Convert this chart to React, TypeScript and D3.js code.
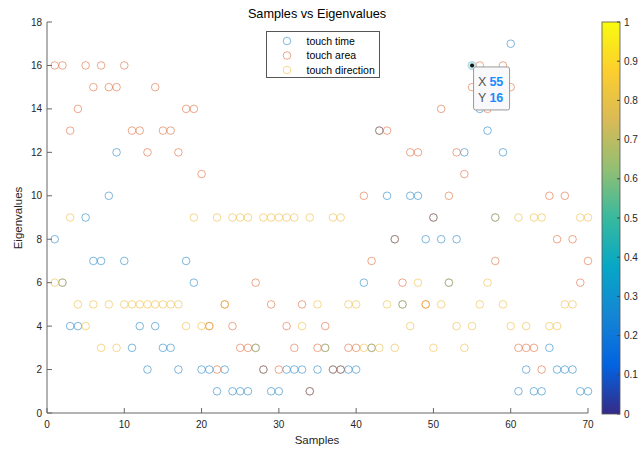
import React, { useEffect, useRef } from 'react';
import * as d3 from 'd3';

// eigenvalue per sample (samples 1..70)
const touchTime = [
  8, 6, 4, 4, 9, 7, 7, 10, 12, 7, 3, 4, 2, 4, 3, 3, 2,
  7, 6, 2, 2, 1, 2, 1, 1, 1, 3, 2, 1, 1, 2, 2, 2, 1,
  2, 3, 2, 2, 2, 2, 6, 3, 13, 10, 8, 5, 10, 10, 8, 9, 8,
  6, 8, 12, 16, 14, 13, 9, 12, 17, 1, 2, 1, 1, 3, 2, 2, 2, 1, 1,
];
const touchArea = [
  16, 16, 13, 14, 16, 15, 16, 15, 15, 16, 13, 13, 12, 15, 13, 13, 12,
  14, 14, 11, 4, 2, 5, 4, 3, 3, 6, 2, 5, 2, 4, 3, 5, 1,
  3, 4, 2, 2, 3, 3, 10, 7, 13, 13, 8, 6, 12, 12, 5, 9, 14,
  10, 12, 11, 15, 16, 14, 7, 16, 15, 3, 3, 3, 2, 10, 8, 10, 8, 6, 7,
];
const touchDirection = [
  6, 6, 9, 5, 4, 5, 3, 5, 3, 5, 5, 5, 5, 5, 5, 5, 5,
  4, 9, 4, 4, 9, 5, 9, 9, 9, 3, 9, 9, 9, 9, 9, 4, 9,
  5, 3, 9, 9, 5, 5, 3, 3, 3, 5, 3, 5, 4, 6, 5, 3, 5,
  6, 4, 3, 4, 5, 6, 9, 5, 4, 9, 4, 9, 9, 4, 4, 5, 5, 9, 9,
];
const seriesNames = ['touch time', 'touch area', 'touch direction'];
const xTicks = [0, 10, 20, 30, 40, 50, 60, 70];
const yTicks = [0, 2, 4, 6, 8, 10, 12, 14, 16, 18];
const cbTicks = [0, 0.1, 0.2, 0.3, 0.4, 0.5, 0.6, 0.7, 0.8, 0.9, 1];
const tipPoint = { x: 55, y: 16 };

const seriesColors = ['#0072BD', '#D95319', '#EDB120'];
const parula = ['#352a87', '#0363e1', '#1485d4', '#06a7c6', '#38b99e', '#92bf73', '#d9ba56', '#fcce2e', '#f9fb0e'];

const W = 644, H = 449;
const FONT = '"Liberation Sans", Arial, Helvetica, sans-serif';

export default function App() {
  const ref = useRef<SVGSVGElement>(null);

  useEffect(() => {
    const svg = d3.select(ref.current);
    svg.selectAll('*').remove();

    const x = d3.scaleLinear().domain([0, 70]).range([47, 588]);
    const y = d3.scaleLinear().domain([0, 18]).range([413, 22]);
    const axisColor = '#666';
    const textColor = '#262626';

    // axes lines
    svg.append('line').attr('x1', x(0)).attr('x2', x(0)).attr('y1', y(0)).attr('y2', y(18))
      .attr('stroke', axisColor);
    svg.append('line').attr('x1', x(0)).attr('x2', x(70)).attr('y1', y(0)).attr('y2', y(0))
      .attr('stroke', axisColor);

    // y ticks (inside)
    const gy = svg.append('g').attr('font-family', FONT).attr('font-size', 10).attr('fill', textColor);
    yTicks.forEach(t => {
      gy.append('line').attr('x1', x(0)).attr('x2', x(0) + 5).attr('y1', y(t)).attr('y2', y(t)).attr('stroke', axisColor);
      gy.append('text').attr('x', x(0) - 5).attr('y', y(t)).attr('dy', '0.35em')
        .attr('text-anchor', 'end').text(t);
    });
    // x ticks (inside)
    const gx = svg.append('g').attr('font-family', FONT).attr('font-size', 10).attr('fill', textColor);
    xTicks.forEach(t => {
      gx.append('line').attr('x1', x(t)).attr('x2', x(t)).attr('y1', y(0)).attr('y2', y(0) - 5).attr('stroke', axisColor);
      gx.append('text').attr('x', x(t)).attr('y', y(0) + 15).attr('text-anchor', 'middle').text(t);
    });

    // labels + title
    svg.append('text').attr('x', 317).attr('y', 444).attr('text-anchor', 'middle')
      .attr('font-family', FONT).attr('font-size', 11.5).attr('fill', textColor).text('Samples');
    svg.append('text').attr('transform', `translate(22,218) rotate(-90)`).attr('text-anchor', 'middle')
      .attr('font-family', FONT).attr('font-size', 11.5).attr('fill', textColor).text('Eigenvalues');
    svg.append('text').attr('x', 317).attr('y', 17.5).attr('text-anchor', 'middle')
      .attr('font-family', FONT).attr('font-size', 12.7).attr('fill', '#000').text('Samples vs Eigenvalues');

    // scatter series
    [touchTime, touchArea, touchDirection].forEach((vals, si) => {
      svg.append('g')
        .selectAll('circle')
        .data(vals)
        .join('circle')
        .attr('cx', (d, i) => x(i + 1))
        .attr('cy', d => y(d))
        .attr('r', 3.8)
        .attr('fill', 'none')
        .attr('stroke', seriesColors[si])
        .attr('stroke-opacity', 0.5)
        .attr('stroke-width', 1);
    });

    // legend
    const lg = svg.append('g').attr('font-family', FONT).attr('font-size', 10.5).attr('fill', '#000');
    lg.append('rect').attr('x', 266.5).attr('y', 31.5).attr('width', 113).attr('height', 46)
      .attr('fill', '#fff').attr('stroke', '#555');
    seriesNames.forEach((n, i) => {
      const ry = 41 + i * 14.5;
      lg.append('circle').attr('cx', 287).attr('cy', ry).attr('r', 3.8).attr('fill', 'none')
        .attr('stroke', seriesColors[i]).attr('stroke-opacity', 0.5);
      lg.append('text').attr('x', 306.5).attr('y', ry).attr('dy', '0.35em').text(n);
    });

    // colorbar
    const cb = d3.scaleLinear().domain([0, 1]).range([414, 22]);
    const grad = svg.append('defs').append('linearGradient').attr('id', 'parula')
      .attr('x1', 0).attr('y1', 1).attr('x2', 0).attr('y2', 0);
    parula.forEach((c, i) => {
      grad.append('stop').attr('offset', i / (parula.length - 1)).attr('stop-color', c);
    });
    svg.append('rect').attr('x', 602).attr('y', cb(1)).attr('width', 18).attr('height', cb(0) - cb(1))
      .attr('fill', 'url(#parula)').attr('stroke', '#555').attr('stroke-width', 0.8);
    const gc = svg.append('g').attr('font-family', FONT).attr('font-size', 10).attr('fill', textColor);
    cbTicks.forEach(t => {
      gc.append('line').attr('x1', 620).attr('x2', 617).attr('y1', cb(t)).attr('y2', cb(t)).attr('stroke', '#444');
      gc.append('text').attr('x', 624).attr('y', cb(t)).attr('dy', '0.35em').text(t);
    });

    // data tip
    const tx = x(tipPoint.x), ty = y(tipPoint.y);
    svg.append('circle').attr('cx', tx).attr('cy', ty).attr('r', 4.5).attr('fill', '#bfe3e6').attr('opacity', 0.8);
    svg.append('circle').attr('cx', tx).attr('cy', ty).attr('r', 2).attr('fill', '#111');
    const tip = svg.append('g').attr('font-family', FONT).attr('font-size', 12.5);
    tip.append('rect').attr('x', tx + 1.5).attr('y', ty + 1.5).attr('width', 36).attr('height', 43).attr('rx', 2)
      .attr('fill', '#f9f9fb').attr('stroke', '#999');
    [['X', tipPoint.x], ['Y', tipPoint.y]].forEach(([k, v], i) => {
      const t = tip.append('text').attr('x', tx + 6).attr('y', ty + 16 + i * 16.5).attr('dy', '0.35em');
      t.append('tspan').attr('fill', '#555').text(String(k));
      t.append('tspan').attr('fill', '#1a8cff').attr('font-weight', 'bold').attr('dx', 3).text(String(v));
    });
  }, []);

  return (
    <svg ref={ref} width={W} height={H}
      style={{ position: 'absolute', left: 0, top: 0, background: '#fff' }} />
  );
}
